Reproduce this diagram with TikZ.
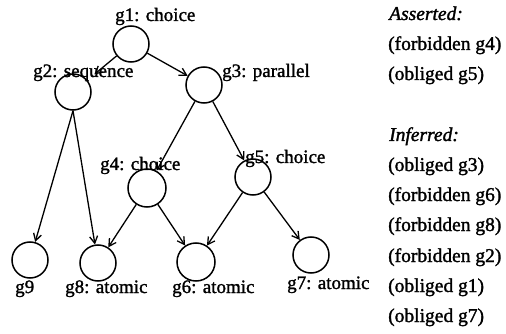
\documentclass[tikz,border=0pt]{standalone}
\usepackage{fontspec}
\setmainfont{Liberation Serif}
\newfontfamily\treefont{Liberation Serif}[FakeBold=1.4]
\newfontfamily\factfont{Liberation Serif}[FakeBold=1.6]
\usetikzlibrary{arrows.meta}
\begin{document}
\begin{tikzpicture}[x=1pt,y=-1pt,
  goal/.style={circle,draw,line width=1.5pt,minimum size=36pt,inner sep=0pt},
  lbl/.style={anchor=base west,inner sep=0pt,font=\treefont\fontsize{19}{19}\selectfont},
  fact/.style={anchor=base west,inner sep=0pt,font=\factfont\fontsize{19.5}{19.5}\selectfont},
  edge/.style={line width=1.3pt,-{Straight Barb[length=7pt,width=8pt,line width=1.3pt]}},
]
\useasboundingbox (0,0) rectangle (506,334);

% goal nodes
\node[goal] (g1) at (131,44) {};
\node[goal] (g2) at (73,92) {};
\node[goal] (g3) at (204,85) {};
\node[goal,minimum size=38pt] (g4) at (147,188) {};
\node[goal] (g5) at (253,177) {};
\node[goal] (g9) at (30,260) {};
\node[goal] (g8) at (98,263) {};
\node[goal,minimum size=38pt] (g6) at (196,262) {};
\node[goal] (g7) at (311,255) {};

% goal labels
\node[lbl] (l1) at (115,21) {g1: choice};
\node[lbl] (l2) at (33,77) {g2: sequence};
\node[lbl] (l3) at (222,77) {g3: parallel};
\node[lbl] (l4) at (100,170) {g4: choice};
\node[lbl] (l5) at (245,163) {g5: choice};
\node[lbl] (l9) at (15,293) {g9};
\node[lbl] (l8) at (65,293) {g8: atomic};
\node[lbl] (l6) at (172,293) {g6: atomic};
\node[lbl] (l7) at (287,289) {g7: atomic};

% decomposition edges
\draw[edge,shorten >=9pt] (g1) -- (g2);
\draw[edge] (g1) -- (g3);
\draw[edge] (g2.south) -- (g9);
\draw[edge] (g2.south) -- (g8);
\draw[edge] (g3) -- (g4);
\draw[edge] (g3) -- (g5);
\draw[edge] (g4) -- (g8);
\draw[edge] (g4) -- (g6);
\draw[edge] (g5) -- (g6);
\draw[edge] (g5) -- (g7);

% asserted and inferred facts
\node[fact] (a0) at (389,20) {\itshape Asserted:};
\node[fact] (a1) at (388,50) {(forbidden g4)};
\node[fact] (a2) at (388,80) {(obliged g5)};
\node[fact] (i0) at (389,141) {\itshape Inferred:};
\node[fact] (i1) at (388,171) {(obliged g3)};
\node[fact] (i2) at (388,201) {(forbidden g6)};
\node[fact] (i3) at (388,231) {(forbidden g8)};
\node[fact] (i4) at (388,262) {(forbidden g2)};
\node[fact] (i5) at (388,292) {(obliged g1)};
\node[fact] (i6) at (388,322) {(obliged g7)};
\end{tikzpicture}
\end{document}
